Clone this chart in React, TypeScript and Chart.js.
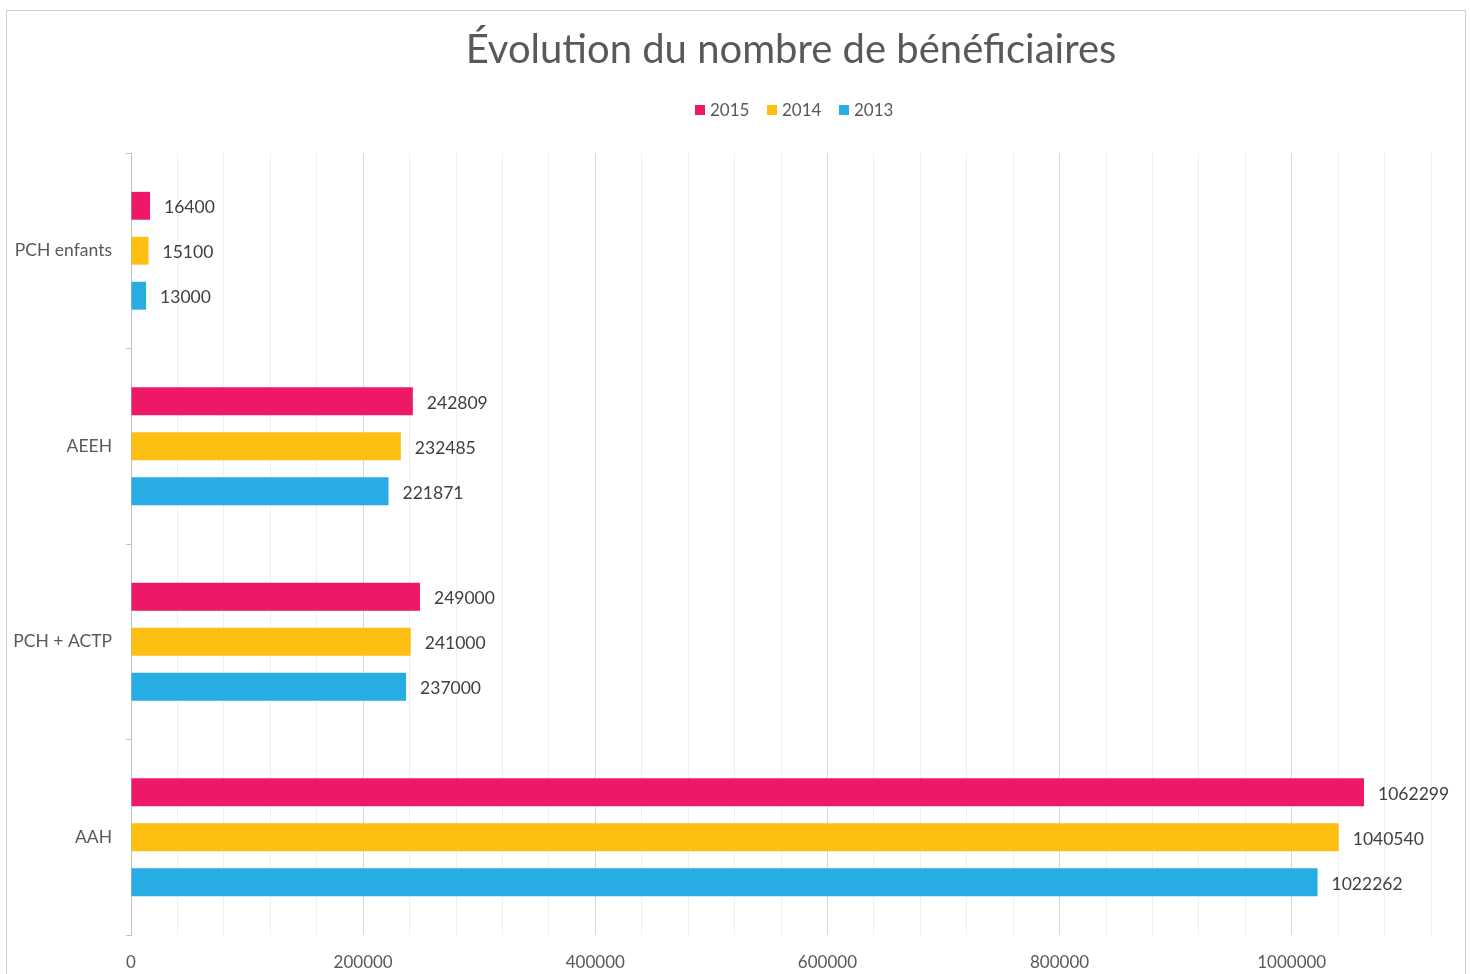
import React, { useEffect, useRef } from "react";
import { Chart, registerables } from "chart.js";

Chart.register(...registerables);

const categories = ["PCH enfants", "AEEH", "PCH + ACTP", "AAH"];
const seriesNames = ["2015", "2014", "2013"];
const values2015 = [16400, 242809, 249000, 1062299];
const values2014 = [15100, 232485, 241000, 1040540];
const values2013 = [13000, 221871, 237000, 1022262];
const seriesColors = ["#ED1867", "#FDBF12", "#27ADE3"];
const titleText = "Évolution du nombre de bénéficiaires";

const FONT = "Lato, 'Open Sans', sans-serif";

const decorPlugin = {
  id: "decor",
  beforeDraw(chart: any) {
    const ctx = chart.ctx;
    ctx.save();
    ctx.fillStyle = "#ffffff";
    ctx.fillRect(0, 0, chart.width, chart.height);
    ctx.strokeStyle = "#D0D0D0";
    ctx.lineWidth = 1;
    ctx.strokeRect(6.5, 10.5, 1459, 1000);
    ctx.restore();
  },
  afterDraw(chart: any) {
    const ctx = chart.ctx;
    ctx.save();
    // title
    ctx.fillStyle = "#595959";
    ctx.font = `40px ${FONT}`;
    ctx.textAlign = "center";
    ctx.textBaseline = "middle";
    ctx.fillText(titleText, 791, 50);
    // legend
    ctx.font = `17px ${FONT}`;
    ctx.textAlign = "left";
    const starts = [695, 767, 839];
    chart.data.datasets.forEach((ds: any, i: number) => {
      ctx.fillStyle = ds.backgroundColor;
      ctx.fillRect(starts[i], 105, 10, 10);
      ctx.fillStyle = "#595959";
      ctx.fillText(ds.label, starts[i] + 15, 111);
    });
    // data labels
    ctx.fillStyle = "#404040";
    ctx.font = `17.5px ${FONT}`;
    chart.data.datasets.forEach((ds: any, i: number) => {
      const meta = chart.getDatasetMeta(i);
      meta.data.forEach((el: any, j: number) => {
        ctx.fillText(String(ds.data[j]), el.x + 14, el.y + 2);
      });
    });
    ctx.restore();
  },
};

export default function App() {
  const ref = useRef<HTMLCanvasElement>(null);
  useEffect(() => {
    document.body.style.margin = "0";
    const chart = new Chart(ref.current!, {
      type: "bar",
      data: {
        labels: categories,
        datasets: [values2015, values2014, values2013].map((d, i) => ({
          label: seriesNames[i],
          data: d,
          backgroundColor: seriesColors[i],
          barPercentage: 0.62,
          categoryPercentage: 0.69,
        })),
      },
      options: {
        indexAxis: "y",
        animation: false,
        responsive: false,
        layout: { padding: { top: 153, right: 39, left: 0, bottom: 0 } },
        plugins: {
          legend: { display: false },
          title: { display: false },
          tooltip: { enabled: false },
        },
        scales: {
          x: {
            min: 0,
            max: 1120000,
            afterFit: (s: any) => {
              s.height = 39;
            },
            border: { display: false },
            grid: {
              drawTicks: false,
              color: (c: any) =>
                c.tick && c.tick.value % 200000 === 0 ? "#D9D9D9" : "#F0F0F0",
            },
            ticks: {
              stepSize: 40000,
              autoSkip: false,
              maxRotation: 0,
              padding: 17,
              color: "#595959",
              font: { family: FONT, size: 17 },
              callback: (v: any) => (Number(v) % 200000 === 0 ? String(v) : ""),
            },
          },
          y: {
            afterFit: (s: any) => {
              s.width = 131;
            },
            border: { display: true, color: "#BFBFBF" },
            grid: {
              offset: true,
              drawOnChartArea: false,
              drawTicks: true,
              tickLength: 5,
              color: "#BFBFBF",
            },
            ticks: {
              padding: 14,
              color: "#595959",
              font: { family: FONT, size: 17.5 },
            },
          },
        },
      },
      plugins: [decorPlugin],
    });
    return () => chart.destroy();
  }, []);
  return <canvas ref={ref} width={1470} height={974} style={{ display: "block" }} />;
}
